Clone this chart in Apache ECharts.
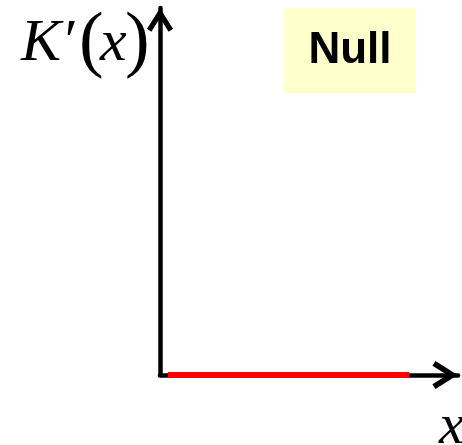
<!DOCTYPE html>
<html>
<head>
<meta charset="utf-8">
<style>html,body{margin:0;padding:0;background:#fff}#c{width:462px;height:445px}</style>
<script src="https://cdn.jsdelivr.net/npm/echarts@6/dist/echarts.min.js"></script>
</head>
<body>
<div id="c"></div>
<script>
// Data
const xRange = [0, 10];
const yRange = [0, 10];
const nullSeries = [[0.27, 0], [8.36, 0]];   // K'(x) = 0 (null model)
const yLabelParts = ['K′', '(', 'x', ')'];
const xLabel = 'x';
const boxLabel = 'Null';

const chevron = 'path://M13,0 L26,20.5 L21.6,23.4 L13,9.6 L4.4,23.4 L0,20.5 Z';

const chart = echarts.init(document.getElementById('c'), null, {renderer: 'canvas'});
chart.setOption({
  animation: false,
  grid: {left: 160, right: 4, top: 8, bottom: 70},
  xAxis: {
    type: 'value', min: xRange[0], max: xRange[1],
    axisLine: {show: true, lineStyle: {color: '#000', width: 4.5},
      symbol: ['none', chevron], symbolSize: [28, 26], symbolOffset: [0, -13]},
    axisTick: {show: false}, axisLabel: {show: false}, splitLine: {show: false}
  },
  yAxis: {
    type: 'value', min: yRange[0], max: yRange[1],
    axisLine: {show: true, lineStyle: {color: '#000', width: 4.5},
      symbol: ['none', chevron], symbolSize: [26, 24], symbolOffset: [0, -12]},
    axisTick: {show: false}, axisLabel: {show: false}, splitLine: {show: false}
  },
  series: [{
    type: 'line', data: nullSeries, symbol: 'none', z: 5,
    lineStyle: {color: '#FF0000', width: 6, cap: 'butt'}
  }],
  graphic: [
    {type: 'rect', shape: {x: 284, y: 8, width: 132, height: 85}, style: {fill: '#FFFFCC'}},
    {type: 'text', x: 350, y: 51, style: {text: boxLabel, font: 'bold 44px "Liberation Sans"', fill: '#000', align: 'center', verticalAlign: 'middle'}},
    {type: 'text', x: 21, y: 14, style: {text: yLabelParts[0], font: 'italic 60px "Liberation Serif"', fill: '#000', verticalAlign: 'top'}},
    {type: 'text', x: 79, y: 7, style: {text: yLabelParts[1], font: '74px "Liberation Serif"', fill: '#000', verticalAlign: 'top'}},
    {type: 'text', x: 100, y: 14, style: {text: yLabelParts[2], font: 'italic 60px "Liberation Serif"', fill: '#000', verticalAlign: 'top'}},
    {type: 'text', x: 125, y: 7, style: {text: yLabelParts[3], font: '74px "Liberation Serif"', fill: '#000', verticalAlign: 'top'}},
    {type: 'text', x: 439, y: 400, style: {text: xLabel, font: 'italic 57px "Liberation Serif"', fill: '#000', verticalAlign: 'top'}}
  ]
});
</script>
</body>
</html>
